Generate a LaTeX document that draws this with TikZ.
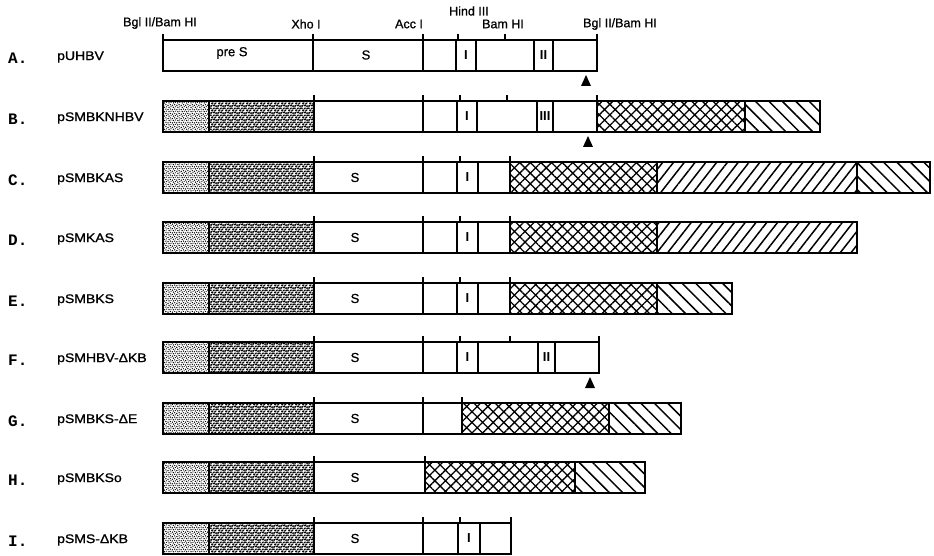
\documentclass[tikz,border=0pt]{standalone}
\usepackage{fontspec}
\setmainfont{Liberation Sans}
\newfontfamily\namefont[FakeStretch=1.12,FakeBold=1.2]{Liberation Sans}
\newfontfamily\hdrfont[FakeBold=0.8]{Liberation Sans}
\newfontfamily\letfont{Liberation Mono}
\usetikzlibrary{patterns,patterns.meta}

\pgfdeclarepatternformonly{lightdots}{\pgfpoint{-1pt}{-1pt}}{\pgfpoint{6pt}{6pt}}{\pgfpoint{4.4pt}{4.4pt}}{%
  \pgfpathcircle{\pgfpoint{0.8pt}{0.9pt}}{0.75pt}%
  \pgfpathcircle{\pgfpoint{3.1pt}{1.5pt}}{0.7pt}%
  \pgfpathcircle{\pgfpoint{1.8pt}{3.3pt}}{0.75pt}%
  \pgfpathcircle{\pgfpoint{3.8pt}{3.8pt}}{0.6pt}%
  \pgfusepath{fill}}
\pgfdeclarepatternformonly{densedots}{\pgfpoint{-1pt}{-1pt}}{\pgfpoint{9pt}{9pt}}{\pgfpoint{7pt}{7pt}}{%
  \pgfpathellipse{\pgfpoint{1.2pt}{1.1pt}}{\pgfpoint{1.5pt}{0.3pt}}{\pgfpoint{0pt}{1.0pt}}%
  \pgfpathcircle{\pgfpoint{4.0pt}{1.5pt}}{1.15pt}%
  \pgfpathellipse{\pgfpoint{6.1pt}{0.9pt}}{\pgfpoint{1.0pt}{0.5pt}}{\pgfpoint{-0.3pt}{0.9pt}}%
  \pgfpathcircle{\pgfpoint{2.2pt}{3.6pt}}{1.15pt}%
  \pgfpathellipse{\pgfpoint{5.2pt}{3.5pt}}{\pgfpoint{1.3pt}{0.4pt}}{\pgfpoint{0pt}{1.0pt}}%
  \pgfpathcircle{\pgfpoint{0.9pt}{5.8pt}}{1.0pt}%
  \pgfpathellipse{\pgfpoint{3.8pt}{5.6pt}}{\pgfpoint{1.2pt}{0.4pt}}{\pgfpoint{0.2pt}{1.0pt}}%
  \pgfpathcircle{\pgfpoint{6.3pt}{5.6pt}}{1.0pt}%
  \pgfusepath{fill}}

\tikzset{
  x=1pt, y=1pt,
  outer/.style={line width=2.2pt},
  divl/.style={line width=1.8pt},
  tickl/.style={line width=1.6pt},
  light/.style={pattern=lightdots},
  dense/.style={pattern=densedots},
  cross/.style={pattern={Hatch[angle=45,distance=7.5pt,line width=1.3pt]}},
  fwd/.style={pattern={Lines[angle=52,distance=8.5pt,line width=1.5pt]}},
  back/.style={pattern={Lines[angle=-45,distance=9.5pt,line width=1.5pt]}},
  hdr/.style={font=\fontsize{12.5}{14}\hdrfont, inner sep=0pt},
  lett/.style={font=\fontsize{16}{17}\letfont\bfseries, inner sep=0pt, anchor=west},
  nm/.style={font=\fontsize{12.5}{14}\namefont, inner sep=0pt, anchor=west},
  inl/.style={font=\fontsize{13}{14}\hdrfont, inner sep=0pt},
  roman/.style={font=\fontsize{13}{14}\selectfont\bfseries, inner sep=0pt},
}
\newcommand\ticks[1]{\foreach \tx in {#1} {\draw[tickl] (\tx,31) -- (\tx,37);}}
\newcommand\divs[1]{\foreach \tx in {#1} {\draw[divl] (\tx,0) -- (\tx,31);}}
\newcommand\tri[1]{\fill (#1-5,-15) -- (#1+5,-15) -- (#1,-4) -- cycle;}
\newcommand\leftpart{\fill[light] (163,0) rectangle (209,31); \fill[dense] (209,0) rectangle (314,31);}

\begin{document}
\begin{tikzpicture}
\useasboundingbox[fill=white] (0,0) rectangle (934,555);

% header labels
\node[hdr] (h1) at (160,532) {Bgl II/Bam HI};
\node[hdr] (h2) at (306,531) {Xho I};
\node[hdr] (h3) at (409,531) {Acc I};
\node[hdr] (h4) at (469,544) {Hind III};
\node[hdr] (h5) at (503,531) {Bam HI};
\node[hdr] (h6) at (620,531) {Bgl II/Bam HI};

% A
\begin{scope}[yshift=484pt]
\node[lett] (la) at (8,13) {A.};
\node[nm] (na) at (57,14) {pUHBV};
\divs{313,423,456,476,534,553}
\draw[outer] (163,0) rectangle (597,31);
\ticks{163,313,423,458,505,597}
\node[inl] (ta1) at (232,18) {pre S};
\node[inl] (ta2) at (366,16) {S};
\node[roman] (ta3) at (466,15.5) {I};
\node[roman] (ta4) at (543.5,15.5) {II};
\tri{586}
\end{scope}

% B
\begin{scope}[yshift=423pt]
\node[lett] (lb) at (8,13) {B.};
\node[nm] (nb) at (57,14) {pSMBKNHBV};
\leftpart
\fill[cross] (597,0) rectangle (745,31);
\fill[back] (745,0) rectangle (820,31);
\divs{209,314,423,457,477,537,553,597,745}
\draw[outer] (163,0) rectangle (820,31);
\ticks{314,423,460,507,597}
\node[roman] (tb1) at (467,15.5) {I};
\node[roman] (tb2) at (545,15.5) {III};
\tri{588}
\end{scope}

% C
\begin{scope}[yshift=362pt]
\node[lett] (lc) at (8,13) {C.};
\node[nm] (nc) at (57,14) {pSMBKAS};
\leftpart
\fill[cross] (510,0) rectangle (657,31);
\fill[fwd] (657,0) rectangle (857,31);
\fill[back] (857,0) rectangle (930,31);
\divs{209,314,423,457,478,510,657,857}
\draw[outer] (163,0) rectangle (930,31);
\ticks{314,423,460,510}
\node[inl] (tc1) at (355,15.5) {S};
\node[roman] (tc2) at (467.5,15.5) {I};
\end{scope}

% D
\begin{scope}[yshift=302pt]
\node[lett] (ld) at (8,13) {D.};
\node[nm] (nd) at (57,14) {pSMKAS};
\leftpart
\fill[cross] (510,0) rectangle (657,31);
\fill[fwd] (657,0) rectangle (857,31);
\divs{209,314,423,457,478,510,657}
\draw[outer] (163,0) rectangle (857,31);
\ticks{314,423,460,510}
\node[inl] (td1) at (355,15.5) {S};
\node[roman] (td2) at (467.5,15.5) {I};
\end{scope}

% E
\begin{scope}[yshift=241pt]
\node[lett] (le) at (8,13) {E.};
\node[nm] (ne) at (57,14) {pSMBKS};
\leftpart
\fill[cross] (510,0) rectangle (657,31);
\fill[back] (657,0) rectangle (732,31);
\divs{209,314,423,457,478,510,657}
\draw[outer] (163,0) rectangle (732,31);
\ticks{314,423,460,510}
\node[inl] (te1) at (355,15.5) {S};
\node[roman] (te2) at (467.5,15.5) {I};
\end{scope}

% F
\begin{scope}[yshift=182pt]
\node[lett] (lf) at (8,13) {F.};
\node[nm] (nf) at (57,14) {pSMHBV-ΔKB};
\leftpart
\divs{209,314,423,457,478,538,555}
\draw[outer] (163,0) rectangle (599,31);
\ticks{314,423,460,510,599}
\node[inl] (tf1) at (355,15.5) {S};
\node[roman] (tf2) at (467.5,15.5) {I};
\node[roman] (tf3) at (546.5,15.5) {II};
\tri{590}
\end{scope}

% G
\begin{scope}[yshift=121pt]
\node[lett] (lg) at (8,13) {G.};
\node[nm] (ng) at (57,14) {pSMBKS-ΔE};
\leftpart
\fill[cross] (462,0) rectangle (609,31);
\fill[back] (609,0) rectangle (681,31);
\divs{209,314,423,462,609}
\draw[outer] (163,0) rectangle (681,31);
\ticks{314,423,462}
\node[inl] (tg1) at (355,15.5) {S};
\end{scope}

% H
\begin{scope}[yshift=62pt]
\node[lett] (lh) at (8,13) {H.};
\node[nm] (nh) at (57,14) {pSMBKSo};
\leftpart
\fill[cross] (425,0) rectangle (575,31);
\fill[back] (575,0) rectangle (645,31);
\divs{209,314,425,575}
\draw[outer] (163,0) rectangle (645,31);
\ticks{314,425}
\node[inl] (th1) at (355,15.5) {S};
\end{scope}

% I
\begin{scope}[yshift=1pt]
\node[lett] (li) at (8,13) {I.};
\node[nm] (ni) at (57,14) {pSMS-ΔKB};
\leftpart
\divs{209,314,423,458,480}
\draw[outer] (163,0) rectangle (511,31);
\ticks{314,423,460,511}
\node[inl] (ti1) at (355,15.5) {S};
\node[roman] (ti2) at (469,15.5) {I};
\end{scope}
\end{tikzpicture}
\end{document}
